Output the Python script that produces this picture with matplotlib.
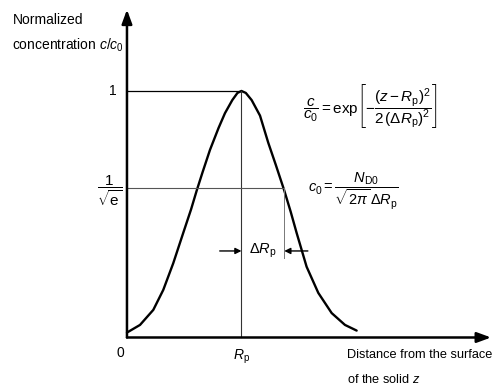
import numpy as np
import matplotlib
matplotlib.use("Agg")
import matplotlib.pyplot as plt

plt.rcParams['font.family'] = ['Liberation Sans', 'DejaVu Sans']
plt.rcParams['mathtext.fontset'] = 'custom'
plt.rcParams['mathtext.rm'] = 'Liberation Sans'
plt.rcParams['mathtext.it'] = 'Liberation Sans:italic'
plt.rcParams['mathtext.sf'] = 'Liberation Sans'

# depth z (in units of Rp) and normalized concentration c/c0 along the profile
z_vals = [0.0, 0.114, 0.230, 0.317, 0.404, 0.492, 0.560, 0.609, 0.660, 0.725, 0.800,
          0.856, 0.920, 0.965, 1.0, 1.038, 1.089, 1.162, 1.234, 1.300, 1.374, 1.430,
          1.482, 1.569, 1.671, 1.788, 1.904, 2.006]
c_vals = [0.020, 0.051, 0.112, 0.193, 0.301, 0.425, 0.520, 0.596, 0.670, 0.761, 0.850,
          0.910, 0.963, 0.992, 1.0, 0.992, 0.963, 0.900, 0.790, 0.700, 0.596, 0.510,
          0.424, 0.287, 0.181, 0.099, 0.051, 0.028]

Rp = 1.0
dRp = 0.374
level_e = np.exp(-0.5)   # 1/sqrt(e)

fig = plt.figure(figsize=(4.93, 3.90), dpi=100)
ax = fig.add_axes([0, 0, 1, 1])
ax.set_xlim(-1.109, 3.197)
ax.set_ylim(-0.213, 1.369)
ax.axis('off')

# axes with arrow heads
ax.annotate('', xy=(3.18, 0), xytext=(0, 0),
            arrowprops=dict(arrowstyle='-|>,head_length=0.6,head_width=0.22', lw=1.8,
                            color='black', mutation_scale=14, shrinkA=0, shrinkB=0))
ax.annotate('', xy=(0, 1.33), xytext=(0, 0),
            arrowprops=dict(arrowstyle='-|>,head_length=0.6,head_width=0.22', lw=1.8,
                            color='black', mutation_scale=14, shrinkA=0, shrinkB=0))

# profile
ax.plot(z_vals, c_vals, color='black', lw=1.7, solid_capstyle='round',
        solid_joinstyle='round')

# guide lines
ax.plot([0, Rp], [1, 1], color='black', lw=0.9)
ax.plot([Rp, Rp], [0, 1], color='#333333', lw=0.8)
ax.plot([0, Rp + dRp], [level_e, level_e], color='#555555', lw=0.8)
ax.plot([Rp + dRp, Rp + dRp], [level_e, 0.322], color='#777777', lw=0.7)

# delta Rp marker arrows
ax.annotate('', xy=(Rp, 0.351), xytext=(0.81, 0.351),
            arrowprops=dict(arrowstyle='-|>', lw=1.0, color='black',
                            mutation_scale=9, shrinkA=0, shrinkB=0))
ax.annotate('', xy=(Rp + dRp, 0.351), xytext=(1.58, 0.351),
            arrowprops=dict(arrowstyle='-|>', lw=1.0, color='black',
                            mutation_scale=9, shrinkA=0, shrinkB=0))
ax.text(1.185, 0.351, r'$\Delta R_\mathrm{p}$', fontsize=10.5, ha='center', va='center')

# labels
fs = 10
ax.text(-1.0, 1.288, 'Normalized', fontsize=fs, ha='left', va='center')
ax.text(-1.0, 1.187, r'concentration $c/c_0$', fontsize=fs, ha='left', va='center')
ax.text(-0.12, 1.0, '1', fontsize=fs, ha='center', va='center')
ax.text(-0.15, level_e - 0.01, r'$\dfrac{1}{\sqrt{\mathrm{e}}}$', fontsize=11,
        ha='center', va='center')
ax.text(-0.06, -0.063, '0', fontsize=fs, ha='center', va='center')
ax.text(Rp, -0.079, r'$R_\mathrm{p}$', fontsize=fs, ha='center', va='center')
ax.text(1.92, -0.071, 'Distance from the surface', fontsize=9.2, ha='left', va='center')
ax.text(1.92, -0.172, r'of the solid $z$', fontsize=9.2, ha='left', va='center')

ax.text(1.54, 0.939,
        r'$\dfrac{c}{c_0} = \mathrm{exp}\left[-\dfrac{(z-R_\mathrm{p})^2}{2\,(\Delta R_\mathrm{p})^2}\right]$',
        fontsize=11, ha='left', va='center')
ax.text(1.58, 0.594,
        r'$c_0 = \dfrac{N_\mathrm{D0}}{\sqrt{2\pi}\,\Delta R_\mathrm{p}}$',
        fontsize=10.5, ha='left', va='center')

fig.savefig('out.png', dpi=100, facecolor='white')
